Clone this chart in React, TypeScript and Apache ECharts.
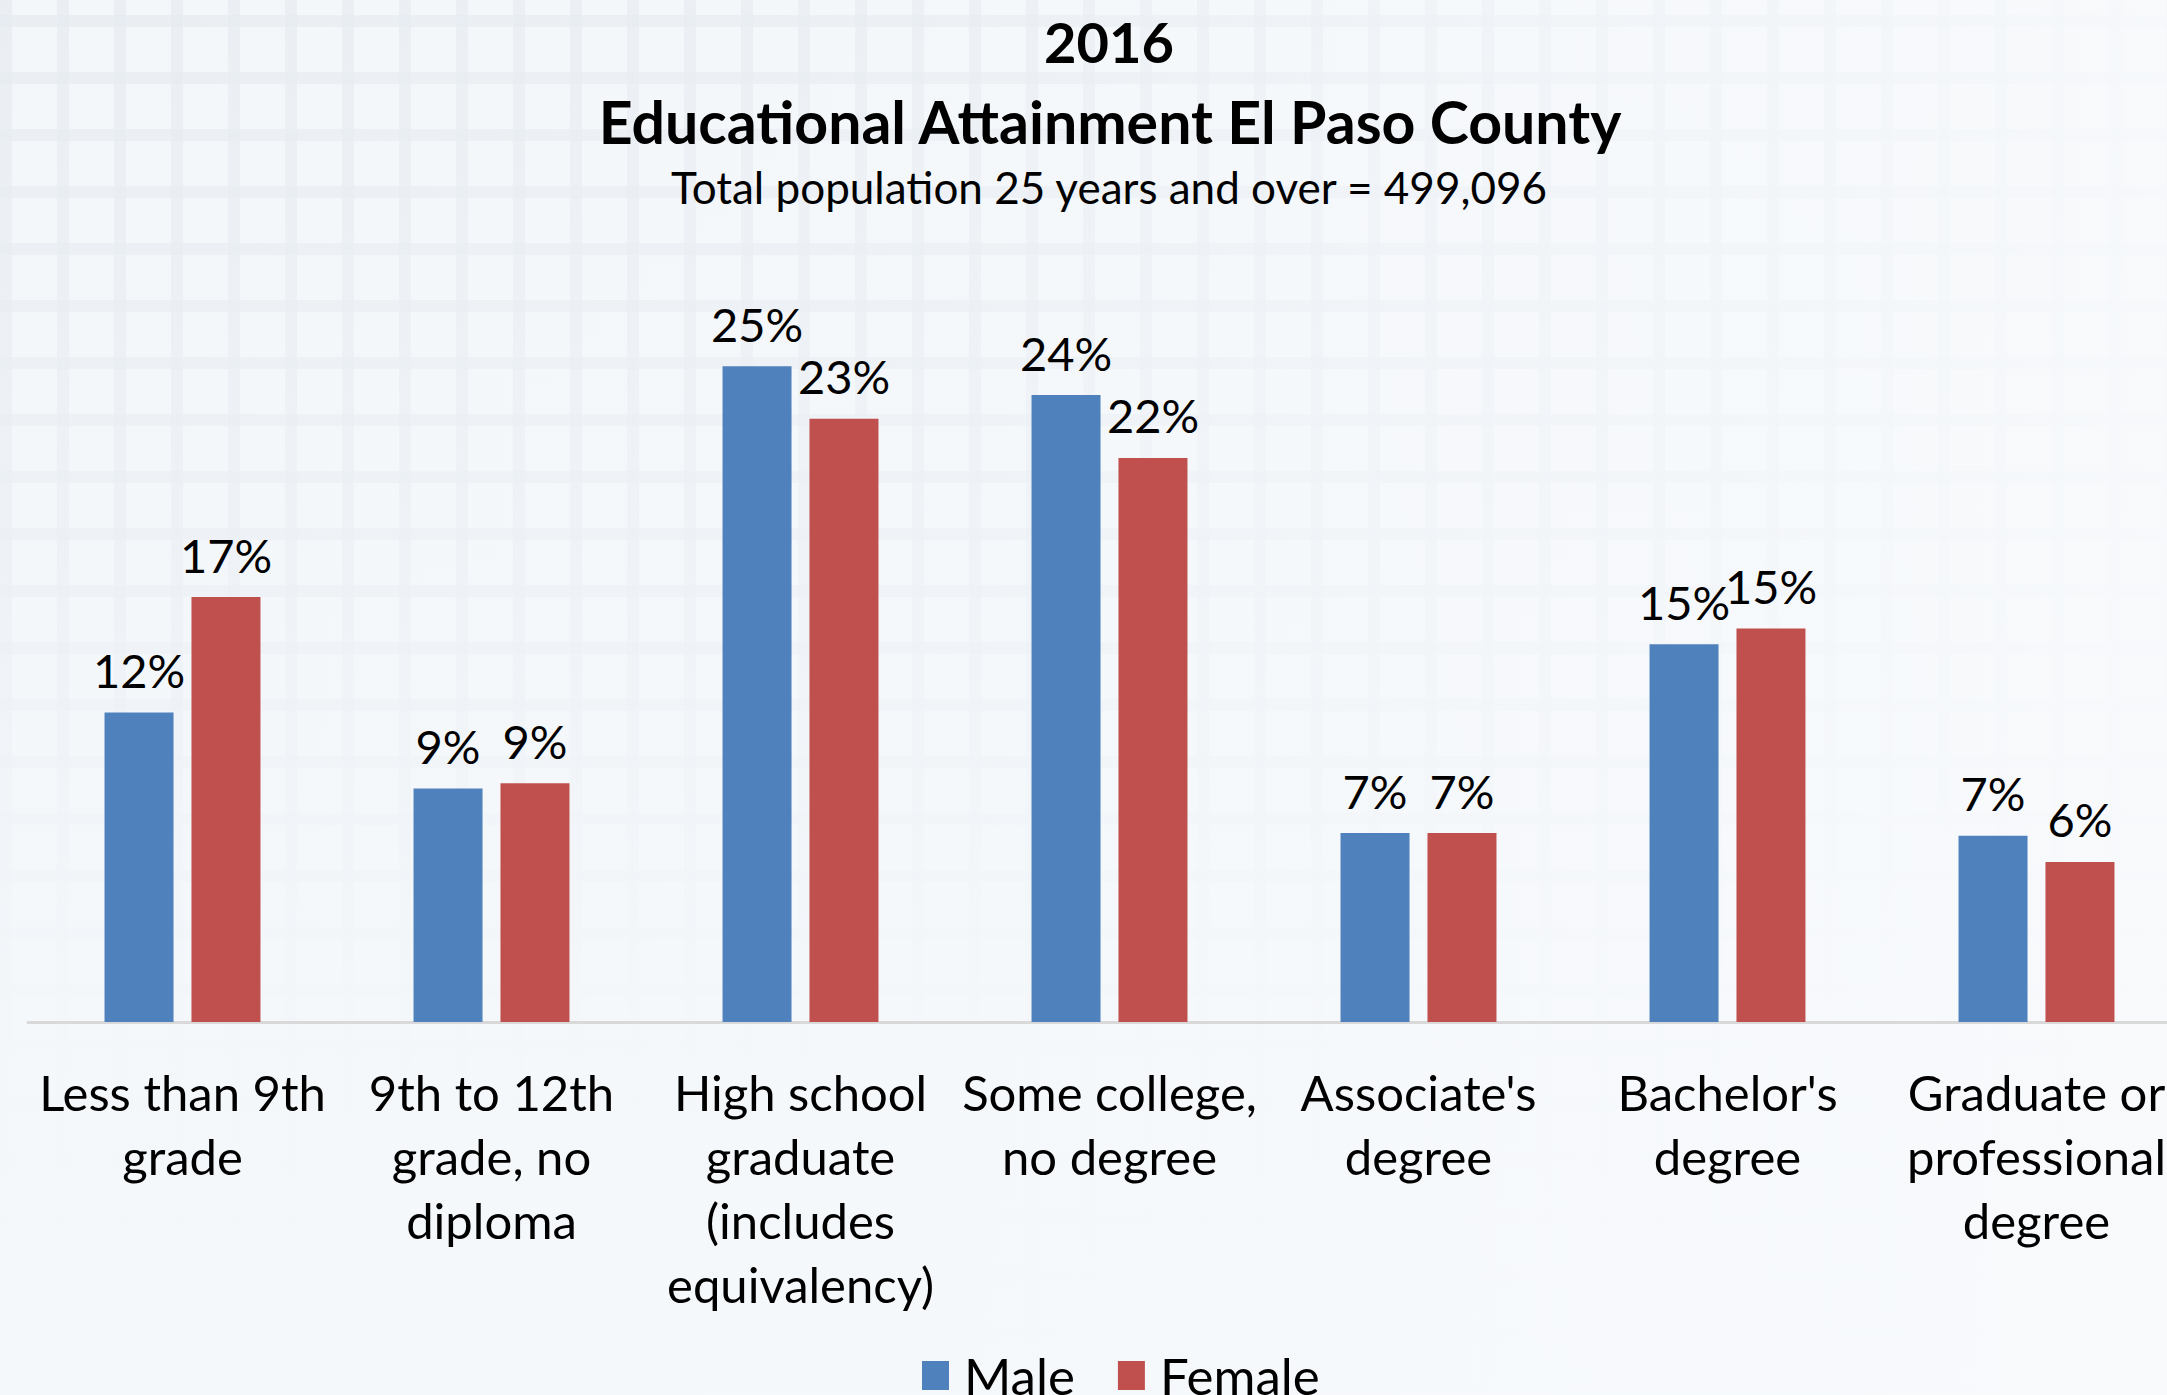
import React, { useEffect, useRef } from "react";
import * as echarts from "echarts";

const categories = [
  "Less than 9th\ngrade",
  "9th to 12th\ngrade, no\ndiploma",
  "High school\ngraduate\n(includes\nequivalency)",
  "Some college,\nno degree",
  "Associate's\ndegree",
  "Bachelor's\ndegree",
  "Graduate or\nprofessional\ndegree",
];
const maleValues = [11.8, 8.9, 25.0, 23.9, 7.2, 14.4, 7.1];
const femaleValues = [16.2, 9.1, 23.0, 21.5, 7.2, 15.0, 6.1];
const maleLabels = ["12%", "9%", "25%", "24%", "7%", "15%", "7%"];
const femaleLabels = ["17%", "9%", "23%", "22%", "7%", "15%", "6%"];
const seriesNames = ["Male", "Female"];
const seriesColors = ["#4F81BD", "#C0504D"];
const titleLines = [
  "2016",
  "Educational Attainment El Paso County",
  "Total population 25 years and over = 499,096",
];

const FONT = "Lato, 'Noto Sans', sans-serif";

export default function App() {
  const ref = useRef<HTMLDivElement>(null);

  useEffect(() => {
    if (!ref.current) return;
    const chart = echarts.init(ref.current, null, { renderer: "svg" });
    const labelsFor = [maleLabels, femaleLabels];
    const valuesFor = [maleValues, femaleValues];

    chart.setOption({
      animation: false,
      backgroundColor: "transparent",
      textStyle: { fontFamily: FONT },
      graphic: [
        {
          type: "text",
          x: 1109,
          y: 41,
          style: {
            text: titleLines[0],
            fontFamily: FONT,
            fontWeight: "bold",
            fontSize: 56,
            fill: "#000",
            align: "center",
            verticalAlign: "middle",
          },
        },
        {
          type: "text",
          x: 1110,
          y: 121,
          style: {
            text: titleLines[1],
            fontFamily: FONT,
            fontWeight: "bold",
            fontSize: 59,
            fill: "#000",
            align: "center",
            verticalAlign: "middle",
          },
        },
        {
          type: "text",
          x: 1109,
          y: 187,
          style: {
            text: titleLines[2],
            fontFamily: FONT,
            fontSize: 44,
            fill: "#000",
            align: "center",
            verticalAlign: "middle",
          },
        },
      ],
      legend: {
        data: seriesNames,
        left: 917,
        top: 1345,
        icon: "rect",
        itemWidth: 27,
        itemHeight: 29,
        itemGap: 43,
        textStyle: { fontFamily: FONT, fontSize: 51, color: "#000", padding: [0, 0, 0, 10] },
      },
      grid: { left: 28, top: 235, width: 2163, height: 787, containLabel: false },
      xAxis: {
        type: "category",
        data: categories,
        axisLine: { lineStyle: { color: "#D9D9D9", width: 3 } },
        axisTick: { show: false },
        axisLabel: {
          interval: 0,
          margin: 38,
          fontFamily: FONT,
          fontSize: 49,
          lineHeight: 64,
          color: "#000",
          verticalAlign: "top",
        },
      },
      yAxis: { type: "value", min: 0, max: 30, show: false, splitLine: { show: false } },
      series: seriesNames.map((name, si) => ({
        name,
        type: "bar",
        data: valuesFor[si],
        barWidth: 69,
        barGap: "26%",
        itemStyle: { color: seriesColors[si] },
        label: {
          show: true,
          position: "top",
          distance: 19,
          fontFamily: FONT,
          fontSize: 47,
          color: "#000",
          formatter: (p: any) => labelsFor[si][p.dataIndex],
        },
      })),
    });

    return () => chart.dispose();
  }, []);

  return (
    <div
      style={{
        position: "fixed",
        left: 0,
        top: 0,
        width: 2167,
        height: 1395,
        overflow: "hidden",
        background:
          "linear-gradient(to right, rgba(248,250,252,0) 0%, rgba(248,250,252,0.15) 45%, rgba(248,250,252,0.85) 100%)," +
          "linear-gradient(to bottom, rgba(245,248,251,0) 0%, rgba(245,248,251,0.35) 40%, rgba(245,248,251,0.9) 75%, rgba(245,248,251,1) 100%)," +
          "repeating-linear-gradient(90deg, rgba(230,235,241,0.7) 0px, rgba(230,235,241,0.7) 12px, rgba(230,235,241,0) 12px, rgba(230,235,241,0) 57px)," +
          "repeating-linear-gradient(0deg, rgba(230,235,241,0.7) 0px, rgba(230,235,241,0.7) 12px, rgba(230,235,241,0) 12px, rgba(230,235,241,0) 57px)," +
          "#F4F7FA",
      }}
    >
      <div ref={ref} style={{ width: 2191, height: 1395 }} />
    </div>
  );
}
